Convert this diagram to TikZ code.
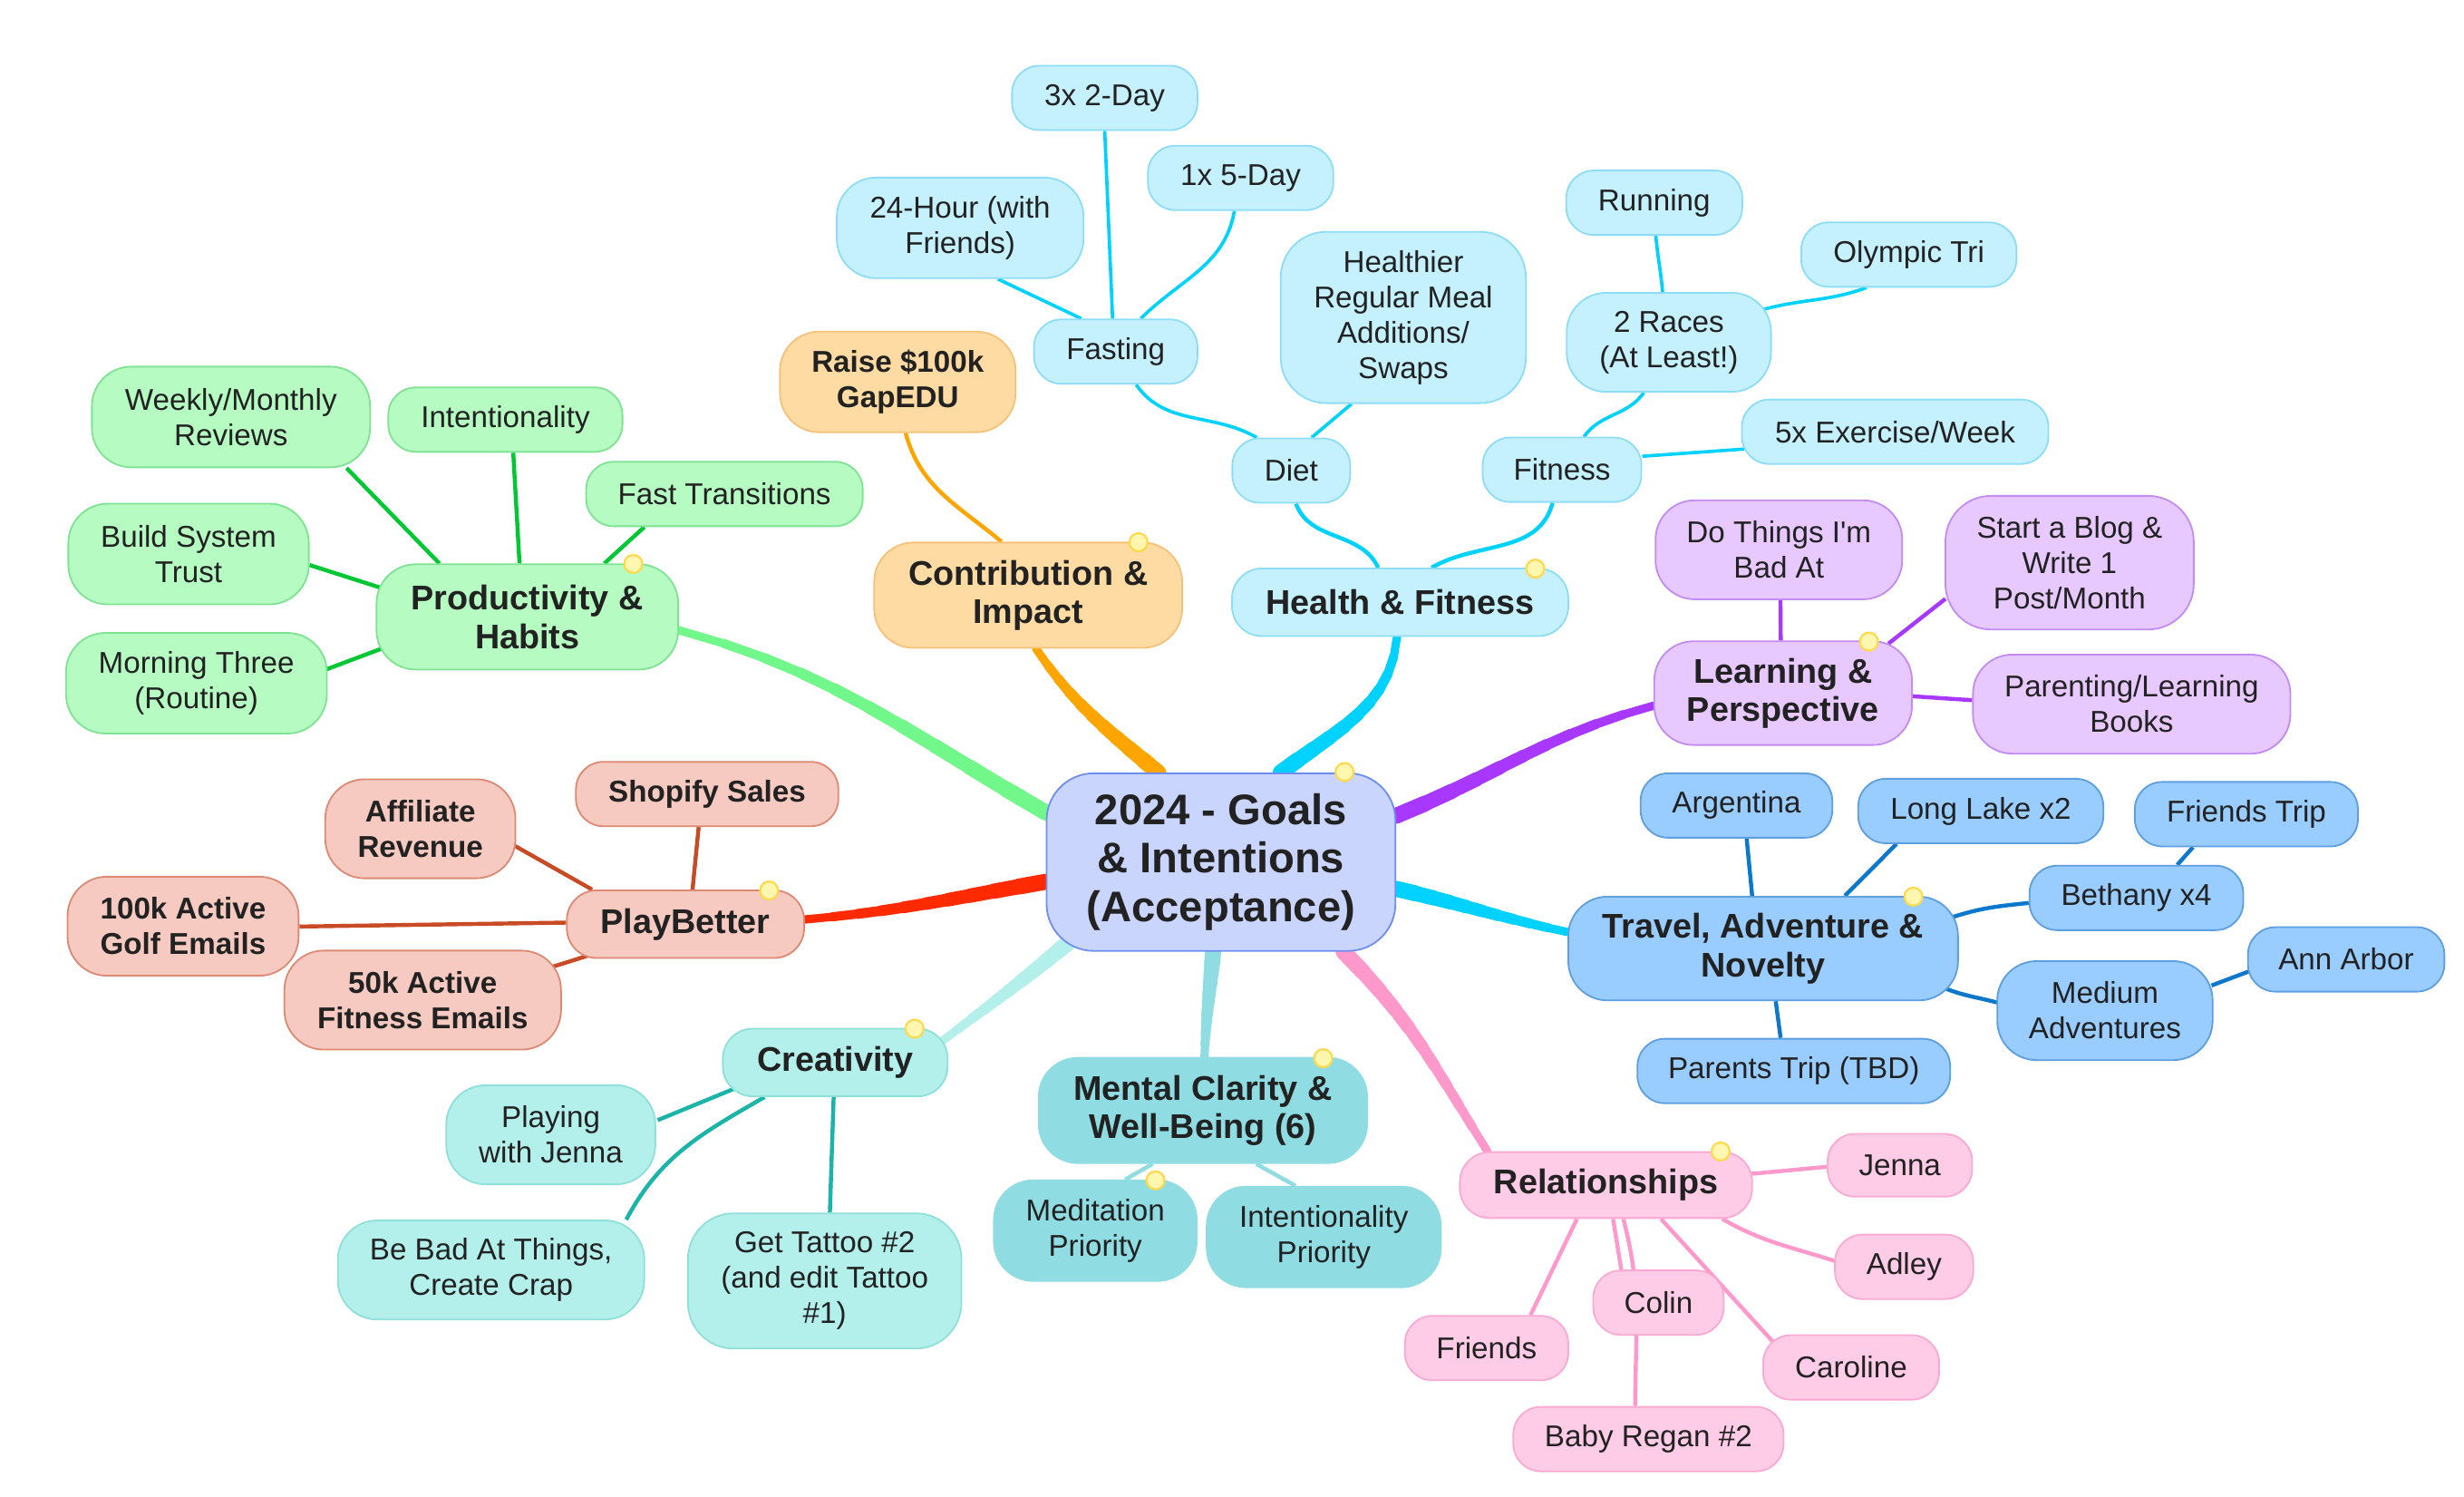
\documentclass[tikz,border=0pt]{standalone}
\usepackage{fontspec}
\setmainfont{Liberation Sans}
\usetikzlibrary{backgrounds,calc}
\definecolor{txt}{HTML}{222222}
\definecolor{rootF}{HTML}{CAD5FE}\definecolor{rootD}{HTML}{6F8FF0}
\definecolor{hF}{HTML}{C5F1FE}\definecolor{hD}{HTML}{8EDDF6}\definecolor{hL}{HTML}{00D2FF}
\definecolor{cF}{HTML}{FEDBA2}\definecolor{cD}{HTML}{F6C27A}\definecolor{cL}{HTML}{FFA500}
\definecolor{pF}{HTML}{B5FBC2}\definecolor{pD}{HTML}{7FE393}\definecolor{pL}{HTML}{72F88A}\definecolor{pS}{HTML}{00C832}
\definecolor{bF}{HTML}{F6CAC1}\definecolor{bD}{HTML}{DC8A74}\definecolor{bL}{HTML}{FF2A00}\definecolor{bS}{HTML}{C84B25}
\definecolor{crF}{HTML}{B3F0EC}\definecolor{crD}{HTML}{8FE0D9}\definecolor{crL}{HTML}{B3F0EC}\definecolor{crS}{HTML}{1AB5A8}
\definecolor{mF}{HTML}{8FDDE3}\definecolor{mL}{HTML}{8FDDE3}
\definecolor{rF}{HTML}{FECCE6}\definecolor{rD}{HTML}{FAAAD3}\definecolor{rL}{HTML}{FF99CC}
\definecolor{tF}{HTML}{99CCFF}\definecolor{tD}{HTML}{5E9FE0}\definecolor{tL}{HTML}{00D2FF}\definecolor{tS}{HTML}{0B78CC}
\definecolor{lF}{HTML}{E8C9FF}\definecolor{lD}{HTML}{C28CF2}\definecolor{lL}{HTML}{A838FF}
\definecolor{dotF}{HTML}{FFF6B0}\definecolor{dotD}{HTML}{FFD94A}
\newcommand\fnorm{\fontsize{10.9}{12.8}\selectfont}
\newcommand\fbran{\fontsize{12.4}{13.9}\selectfont\bfseries}
\newcommand\fcentre{\fontsize{15.5}{17.7}\selectfont\bfseries}
\newcommand\mconn[4]{%
  \path #2 to[#4] coordinate[pos=0.1] (k1) coordinate[pos=0.2] (k2) coordinate[pos=0.3] (k3)
    coordinate[pos=0.4] (k4) coordinate[pos=0.5] (k5) coordinate[pos=0.6] (k6)
    coordinate[pos=0.7] (k7) coordinate[pos=0.8] (k8) coordinate[pos=0.9] (k9) #3;
  \coordinate (k0) at #2;
  \coordinate (k10) at #3;
  \foreach \a/\b/\w in {0/1/5.8,1/2/5.5,2/3/5.2,3/4/4.9,4/5/4.55,5/6/4.25,6/7/3.9,7/8/3.6,8/9/3.3,9/10/3.0}
    {\draw[#1, line width=\w pt, line cap=round] (k\a) -- (k\b);}
}
\begin{document}
\begin{tikzpicture}[x=0.02cm,y=-0.02cm,
  box/.style={draw, line width=0.6pt, align=center, inner sep=0pt, text=txt, font=\fnorm, rounded corners=0.35cm},
  sz/.style 2 args={minimum width=#1*0.02cm, minimum height=#2*0.02cm},
  rtwo/.style={rounded corners=0.5cm},
  rthree/.style={rounded corners=0.58cm},
  rbr/.style={rounded corners=0.38cm},
  branch/.style={font=\fbran},
  bsub/.style={font=\fnorm\bfseries},
  rootbox/.style={box, fill=rootF, draw=rootD, font=\fcentre, rounded corners=0.6cm},
  hbox/.style={box, fill=hF, draw=hD},
  cbox/.style={box, fill=cF, draw=cD},
  pbox/.style={box, fill=pF, draw=pD},
  bbox/.style={box, fill=bF, draw=bD},
  crbox/.style={box, fill=crF, draw=crD},
  mbox/.style={box, fill=mF, draw=mF},
  rbox/.style={box, fill=rF, draw=rD},
  tbox/.style={box, fill=tF, draw=tD},
  lbox/.style={box, fill=lF, draw=lD},
  dot/.style={circle, draw=dotD, fill=dotF, line width=0.7pt, minimum size=0.23cm, inner sep=0pt},
  sub/.style={line width=1.45pt},
  lvthree/.style={line width=1.2pt}
]
\useasboundingbox (0,0) rectangle (1568,952);

% ---------- centre and branches
\node[rootbox, sz={222}{113}] (root) at (777,548.5) {2024 - Goals\\\& Intentions\\(Acceptance)};
\node[hbox, branch, rbr, sz={214}{43}] (health) at (891,383.2) {Health \& Fitness};
\node[cbox, branch, rtwo, sz={196}{67}] (contrib) at (654.3,378.7) {Contribution \&\\Impact};
\node[pbox, branch, rtwo, sz={192}{67}] (prod) at (335.6,392.5) {Productivity \&\\Habits};
\node[bbox, branch, rbr, sz={151}{43}] (play) at (436.2,588) {PlayBetter};
\node[crbox, branch, rbr, sz={143}{43}] (creat) at (531.5,676) {Creativity};
\node[mbox, branch, rtwo, sz={209}{67}] (mental) at (765.5,706.5) {Mental Clarity \&\\Well-Being (6)};
\node[rbox, branch, rbr, sz={186}{42}] (rel) at (1022,754) {Relationships};
\node[tbox, branch, rtwo, sz={248}{66}] (travel) at (1122,603.5) {Travel, Adventure \&\\Novelty};
\node[lbox, branch, rtwo, sz={164}{66}] (learn) at (1134.7,441) {Learning \&\\Perspective};

% ---------- health
\node[hbox, sz={75}{41}] (diet) at (821.7,299.4) {Diet};
\node[hbox, sz={101}{41}] (fitness) at (994,298.9) {Fitness};
\node[hbox, sz={104}{41}] (fasting) at (710,223.7) {Fasting};
\node[hbox, rthree, sz={156}{109}] (healthier) at (893,202) {Healthier\\Regular Meal\\Additions/\\Swaps};
\node[hbox, rtwo, sz={130}{63}] (races) at (1062,217.8) {2 Races\\(At Least!)};
\node[hbox, sz={195}{41}] (ex5) at (1206,274.7) {5x Exercise/Week};
\node[hbox, sz={112}{41}] (running) at (1052.7,129) {Running};
\node[hbox, sz={137}{41}] (olympic) at (1214.7,162) {Olympic Tri};
\node[hbox, sz={118}{41}] (d2) at (703,62.3) {3x 2-Day};
\node[hbox, sz={118}{41}] (d5) at (789.5,113.2) {1x 5-Day};
\node[hbox, rtwo, sz={157}{64}] (h24) at (611,145) {24-Hour (with\\Friends)};

% ---------- contribution
\node[cbox, bsub, rtwo, sz={150}{64}] (raise) at (571.3,243) {Raise \$100k\\GapEDU};

% ---------- productivity
\node[pbox, rtwo, sz={177}{64}] (weekly) at (147,265.3) {Weekly/Monthly\\Reviews};
\node[pbox, sz={149}{41}] (intent) at (321.6,267) {Intentionality};
\node[pbox, sz={176}{41}] (fastt) at (461,314.3) {Fast Transitions};
\node[pbox, rtwo, sz={153}{64}] (bst) at (120,352.5) {Build System\\Trust};
\node[pbox, rtwo, sz={166}{64}] (morning) at (125,434.7) {Morning Three\\(Routine)};

% ---------- playbetter
\node[bbox, bsub, sz={167}{41}] (shopify) at (450,505.2) {Shopify Sales};
\node[bbox, bsub, rtwo, sz={121}{63}] (affil) at (267.5,527.3) {Affiliate\\Revenue};
\node[bbox, bsub, rtwo, sz={147}{63}] (golf) at (116.5,589.3) {100k Active\\Golf Emails};
\node[bbox, bsub, rtwo, sz={176}{63}] (fitem) at (269,636.3) {50k Active\\Fitness Emails};

% ---------- creativity
\node[crbox, rtwo, sz={133}{63}] (pwj) at (350.5,722) {Playing\\with Jenna};
\node[crbox, rtwo, sz={195}{63}] (bebad) at (312.5,808) {Be Bad At Things,\\Create Crap};
\node[crbox, rthree, sz={174}{86}] (tattoo) at (524.8,815) {Get Tattoo \#2\\(and edit Tattoo\\\#1)};

% ---------- mental
\node[mbox, rtwo, sz={129}{64}] (medit) at (697,783) {Meditation\\Priority};
\node[mbox, rtwo, sz={149}{64}] (intp) at (842.4,787) {Intentionality\\Priority};

% ---------- relationships
\node[rbox, sz={92}{40}] (jenna) at (1209,741.4) {Jenna};
\node[rbox, sz={88}{41}] (adley) at (1211.7,806) {Adley};
\node[rbox, sz={112}{41}] (caroline) at (1178,870) {Caroline};
\node[rbox, sz={83}{41}] (colin) at (1055.4,828.8) {Colin};
\node[rbox, sz={104}{41}] (friends) at (946,857.7) {Friends};
\node[rbox, sz={172}{41}] (baby) at (1049,915.6) {Baby Regan \#2};

% ---------- travel
\node[tbox, sz={122}{41}] (argentina) at (1105,512.5) {Argentina};
\node[tbox, sz={156}{41}] (longlake) at (1260.5,516) {Long Lake x2};
\node[tbox, sz={142}{41}] (ftrip) at (1429.5,518) {Friends Trip};
\node[tbox, sz={136}{41}] (bethany) at (1359.5,571.3) {Bethany x4};
\node[tbox, rtwo, sz={137}{63}] (medium) at (1339.5,643) {Medium\\Adventures};
\node[tbox, sz={125}{41}] (annarbor) at (1493,610.4) {Ann Arbor};
\node[tbox, sz={199}{41}] (parents) at (1141.5,681.4) {Parents Trip (TBD)};

% ---------- learning
\node[lbox, rtwo, sz={157}{63}] (dothings) at (1132,349.8) {Do Things I\textquotesingle m\\Bad At};
\node[lbox, rthree, sz={158}{85}] (blog) at (1317,358) {Start a Blog \&\\Write 1\\Post/Month};
\node[lbox, rtwo, sz={202}{63}] (parenting) at (1356.5,448) {Parenting/Learning\\Books};

% ---------- note markers
\node[dot] (dotroot) at (855.6,491.2) {};
\node[dot] (dotcontrib) at (724.5,345) {};
\node[dot] (dothealth) at (977,361.8) {};
\node[dot] (dotprod) at (403,358.8) {};
\node[dot] (dotplay) at (489.4,566.6) {};
\node[dot] (dotcreat) at (582,654.5) {};
\node[dot] (dotmental) at (842,673.3) {};
\node[dot] (dotmedit) at (735.3,751) {};
\node[dot] (dotrel) at (1094.9,732.6) {};
\node[dot] (dottravel) at (1217.6,570.5) {};
\node[dot] (dotlearn) at (1189.3,408.2) {};

\begin{pgfonlayer}{background}
\fill[white] (0,0) rectangle (1568,952);
% main connectors (tapered)
\mconn{hL}{($(root.north)+(38,0)$)}{($(health.south)+(-2,0)$)}{out=37,in=-95}
\mconn{cL}{($(root.north)+(-40,0)$)}{($(contrib.south)+(5,0)$)}{out=140,in=-56}
\mconn{pL}{($(root.west)+(0,-31.5)$)}{($(prod.east)+(0,8.5)$)}{out=150,in=-15}
\mconn{bL}{($(root.west)+(0,12.5)$)}{($(play.east)+(0,-3)$)}{out=190,in=5}
\mconn{crL}{($(root.south west)+(17,-8)$)}{($(creat.north east)+(-3.5,8)$)}{out=220,in=37}
\mconn{mL}{($(root.south)+(-5,0)$)}{($(mental.north)+(1,0)$)}{out=-95,in=88}
\mconn{rL}{($(root.south)+(78,0)$)}{($(rel.north west)+(18,0)$)}{out=-45,in=122}
\mconn{tL}{($(root.east)+(0,17)$)}{($(travel.west)+(0,-10.5)$)}{out=-13,in=168}
\mconn{lL}{($(root.east)+(0,-29.5)$)}{($(learn.west)+(0,8)$)}{out=22,in=195}

% health
\draw[hL, sub] ($(health.north)+(-14,0)$) to[out=115,in=-70] ($(diet.south)+(3,0)$);
\draw[hL, sub] ($(health.north)+(20,0)$) to[out=30,in=-105] ($(fitness.south)+(-6,0)$);
\draw[hL, lvthree] ($(diet.north)+(-22,0)$) to[out=150,in=-55] ($(fasting.south)+(13,0)$);
\draw[hL, lvthree] ($(diet.north)+(13,0)$) -- ($(healthier.south)+(-33,0)$);
\draw[hL, lvthree] ($(fasting.north)+(-2,0)$) -- (d2.south);
\draw[hL, lvthree] ($(fasting.north)+(16,0)$) to[out=45,in=-100] ($(d5.south)+(-4,0)$);
\draw[hL, lvthree] ($(fasting.north)+(-22,0)$) -- ($(h24.south)+(24,0)$);
\draw[hL, lvthree] ($(fitness.north)+(14,0)$) to[out=55,in=-125] ($(races.south)+(-16,0)$);
\draw[hL, lvthree] ($(fitness.east)+(0,-8.6)$) -- ($(ex5.west)+(2,11)$);
\draw[hL, lvthree] ($(races.north)+(-4,0)$) to[out=95,in=-85] ($(running.south)+(1,0)$);
\draw[hL, lvthree] ($(races.north east)+(-5,11)$) to[out=15,in=-160] ($(olympic.south)+(-27,0)$);
% contribution
\draw[cL, sub] ($(contrib.north)+(-17,0)$) to[out=140,in=-75] ($(raise.south)+(5,0)$);
% productivity
\draw[pS, sub] ($(prod.north)+(-56,0)$) -- ($(weekly.south)+(73.6,0)$);
\draw[pS, sub] ($(prod.north)+(-5,0)$) -- ($(intent.south)+(5,0)$);
\draw[pS, sub] ($(prod.north)+(49,0)$) -- ($(fastt.south)+(-51,0)$);
\draw[pS, sub] ($(prod.west)+(3,-18.6)$) -- ($(bst.east)+(0,7)$);
\draw[pS, sub] ($(prod.west)+(4.5,19.9)$) -- ($(morning.east)+(-0.6,-8.9)$);
% playbetter
\draw[bS, sub] ($(play.north)+(4.5,0)$) -- ($(shopify.south)+(-5.4,0)$);
\draw[bS, sub] ($(play.north west)+(16.6,0)$) -- ($(affil.east)+(-0.7,11)$);
\draw[bS, sub] ($(play.west)+(0,-1)$) -- ($(golf.east)+(0,0.2)$);
\draw[bS, sub] ($(play.south west)+(14,-2)$) -- ($(fitem.north east)+(-5.5,10.7)$);
% creativity
\draw[crS, sub] ($(creat.south west)+(8.6,-5.7)$) -- ($(pwj.east)+(1,-9.3)$);
\draw[crS, sub] ($(creat.south west)+(27,0)$) to[out=210,in=62] ($(bebad.north east)+(-12,0)$);
\draw[crS, sub] ($(creat.south)+(-1,0)$) -- ($(tattoo.north)+(3.3,0)$);
% mental
\draw[mL, sub] ($(mental.south)+(-32,0)$) -- ($(medit.north)+(19,0)$);
\draw[mL, sub] ($(mental.south)+(34,0)$) -- ($(intp.north)+(-18,0)$);
% relationships
\draw[rL, sub] ($(rel.east)+(-0.8,-7.2)$) to[out=5,in=185] ($(jenna.west)+(0,1)$);
\draw[rL, sub] ($(rel.south)+(74,0)$) to[out=-30,in=162] ($(adley.west)+(1,-3.5)$);
\draw[rL, sub] ($(rel.south)+(35,0)$) -- ($(caroline.north west)+(7,5)$);
\draw[rL, sub] ($(rel.south)+(4.5,0)$) -- ($(colin.north)+(-23.7,0)$);
\draw[rL, sub] ($(rel.south)+(11,0)$) to[out=-75,in=90] ($(baby.north)+(-8.4,0)$);
\draw[rL, sub] ($(rel.south)+(-18.5,0)$) -- ($(friends.north)+(28,0)$);
% travel
\draw[tS, sub] ($(travel.north)+(-7,0)$) -- ($(argentina.south)+(6.5,0)$);
\draw[tS, sub] ($(travel.north)+(52,0)$) -- ($(longlake.south)+(-53.7,0)$);
\draw[tS, sub] ($(travel.east)+(-4,-20)$) to[out=18,in=186] ($(bethany.west)+(0,3.2)$);
\draw[tS, sub] ($(travel.east)+(-9.6,25)$) to[out=-22,in=165] ($(medium.west)+(1,-5)$);
\draw[tS, sub] ($(travel.south)+(8,0)$) -- ($(parents.north)+(-8.4,0)$);
\draw[tS, sub] ($(bethany.north)+(26,0)$) -- ($(ftrip.south)+(-34,0)$);
\draw[tS, sub] ($(medium.east)+(-1.2,-16)$) -- ($(annarbor.west)+(1.3,7.6)$);
% learning
\draw[lL, sub] ($(learn.north)+(-1.5,0)$) -- ($(dothings.south)+(1,0)$);
\draw[lL, sub] ($(learn.north east)+(-15.5,2)$) -- ($(blog.west)+(0.5,23)$);
\draw[lL, sub] ($(learn.east)+(0,2)$) -- ($(parenting.west)+(0,-2.5)$);
\end{pgfonlayer}
\end{tikzpicture}
\end{document}
